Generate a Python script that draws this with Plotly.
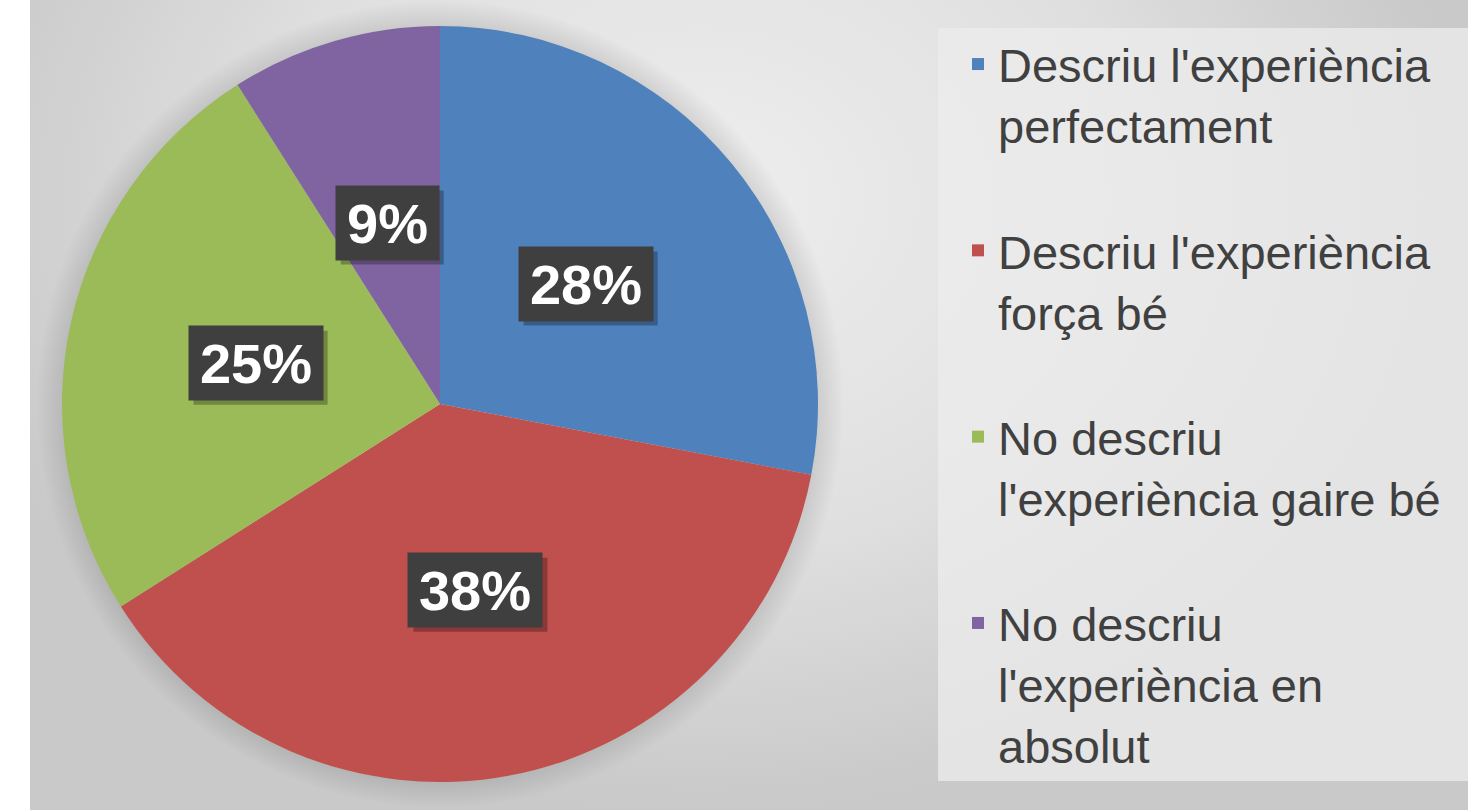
import math
import plotly.graph_objects as go

# ---- data ----
categories = [
    "Descriu l'experiència<br>perfectament",
    "Descriu l'experiència<br>força bé",
    "No descriu<br>l'experiència gaire bé",
    "No descriu<br>l'experiència en<br>absolut",
]
values = [28, 38, 25, 9]
colors = ["#4F81BD", "#C0504D", "#9BBB59", "#8064A2"]
value_labels = ["28%", "38%", "25%", "9%"]

W, H = 1468, 810
# pie geometry (pixels)
cx, cy, r = 440, 404, 378
LABEL_FS = 56

fig = go.Figure()

# background radial gradient (pixel-coordinate hidden axes)
fig.add_trace(go.Scatter(
    x=[-68, 1468, 1468, -68, -68], y=[-410, -410, 810, 810, -410],
    mode="lines", line=dict(width=0), fill="toself",
    fillgradient=dict(type="radial",
                      colorscale=[[0, "#eeeeee"], [0.55, "#e0e0e0"], [1, "#c9c9c9"]]),
    hoverinfo="skip", showlegend=False,
))

# soft halo around the pie
R_halo = r + 26
n = 180
hx = [cx + R_halo * math.cos(2 * math.pi * k / n) for k in range(n + 1)]
hy = [cy + R_halo * math.sin(2 * math.pi * k / n) for k in range(n + 1)]
f_in = (r - 4) / R_halo
fig.add_trace(go.Scatter(
    x=hx, y=hy, mode="lines", line=dict(width=0), fill="toself",
    fillgradient=dict(type="radial",
                      colorscale=[[0, "rgba(0,0,0,0)"], [f_in, "rgba(0,0,0,0.12)"],
                                  [1, "rgba(0,0,0,0)"]]),
    hoverinfo="skip", showlegend=False,
))

# legend entries get a blank trailing line to mimic the spacing
legend_labels = [c + ("<br> " if i < len(categories) - 1 else "") for i, c in enumerate(categories)]

fig.add_trace(go.Pie(
    labels=legend_labels, values=values, sort=False, direction="clockwise", rotation=0,
    marker=dict(colors=colors, line=dict(width=0)),
    textinfo="none", hoverinfo="label+percent",
    domain=dict(x=[(cx - r) / W, (cx + r) / W], y=[(H - cy - r) / H, (H - cy + r) / H]),
))

# value labels in dark boxes at half radius along mid-angle
total = sum(values)
cum = 0
labels, shadow_shapes = [], []
for v, lab in zip(values, value_labels):
    mid = (cum + v / 2) / total * 2 * math.pi
    cum += v
    px = cx + 0.5 * r * math.sin(mid)
    py = cy - 0.5 * r * math.cos(mid)
    n_digits = len(lab) - 1
    bw = LABEL_FS * (0.556 * n_digits + 0.889) + 22
    bh = 74
    shadow_shapes.append(dict(type="rect", xref="x", yref="y",
                              x0=px - bw / 2 + 5, x1=px + bw / 2 + 5,
                              y0=py - bh / 2 + 5, y1=py + bh / 2 + 5,
                              fillcolor="rgba(0,0,0,0.28)", line=dict(width=0), layer="above"))
    labels.append(dict(x=px, y=py, xref="x", yref="y", text="<b>" + lab + "</b>", showarrow=False,
                       font=dict(size=LABEL_FS, color="white", family="Liberation Sans"),
                       bgcolor="#3f3f3f", borderpad=0, width=bw, height=bh))

fig.update_layout(
    width=W, height=H, margin=dict(l=0, r=0, t=0, b=0),
    paper_bgcolor="white", plot_bgcolor="rgba(0,0,0,0)",
    xaxis=dict(range=[0, W], visible=False, fixedrange=True),
    yaxis=dict(range=[H, 0], visible=False, fixedrange=True),
    showlegend=True,
    legend=dict(x=958 / W, y=1 - 27 / H, xanchor="left", yanchor="top",
                bgcolor="rgba(0,0,0,0)", valign="top",
                font=dict(size=47, color="#404040", family="Liberation Sans"),
                traceorder="normal"),
    annotations=labels,
    shapes=[
        dict(type="rect", xref="x", yref="y", x0=0, x1=30, y0=0, y1=H,
             fillcolor="white", line=dict(width=0), layer="above"),
        dict(type="rect", xref="x", yref="y", x0=938, x1=W, y0=28, y1=781,
             fillcolor="rgba(236,236,236,0.75)", line=dict(width=0), layer="above"),
    ] + shadow_shapes,
)

fig.write_html("out.html", config={"displayModeBar": False},
               post_script="document.body.style.margin='0';")
